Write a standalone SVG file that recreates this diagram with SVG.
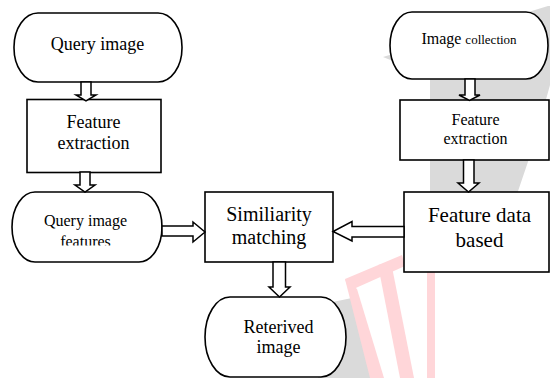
<svg xmlns="http://www.w3.org/2000/svg" width="550" height="378" viewBox="0 0 550 378">
<defs>
<style>
.nd{fill:#fff;stroke:#000;stroke-width:1.6}
.ar{fill:#fff;stroke:#000;stroke-width:1.5;stroke-linejoin:miter}
.t{font-family:'Liberation Serif','Times New Roman',Tinos,'Nimbus Roman','DejaVu Serif',serif;fill:#000;text-anchor:middle}
.wm{fill:#dadada}
.pk{fill:#ffd6d9}
</style>
<clipPath id="clipF"><rect x="0" y="200" width="200" height="45.5"/></clipPath>
</defs>
<rect width="550" height="378" fill="#fff"/>
<g id="watermark">
<polygon class="wm" points="383,57 548,6 550,6 550,85 532,150 515,200 500,272 430,272 430,76"/>
<polygon class="wm" points="318,305 352,298 374,378 318,378"/>
<polygon class="pk" points="345,279 402,255 405,266 349,291"/>
<polygon class="pk" points="345,279 357,289 384,378 370,378"/>
<polygon class="pk" points="378,265 391,262 414,378 400,378"/>
<rect class="pk" x="427" y="268" width="8" height="110"/>
</g>
<g id="query-image">
<rect class="nd" x="14" y="13" width="168" height="69" rx="24" ry="34"/>
<text class="t" x="97.5" y="50" font-size="18">Query image</text>
</g>
<g id="feature-extraction-left">
<rect class="nd" x="27" y="99.5" width="134" height="73"/>
<text class="t" x="93.5" y="128" font-size="18">Feature</text>
<text class="t" x="93.5" y="149" font-size="18">extraction</text>
</g>
<g id="query-image-features">
<rect class="nd" x="12" y="192" width="150" height="70" rx="23" ry="35"/>
<text class="t" x="85.5" y="225.5" font-size="16">Query image</text>
<text class="t" x="85.5" y="247" font-size="16" clip-path="url(#clipF)">features</text>
</g>
<g id="similarity-matching">
<rect class="nd" x="205" y="192" width="128" height="70"/>
<text class="t" x="269" y="221" font-size="20">Similiarity</text>
<text class="t" x="269" y="244" font-size="20">matching</text>
</g>
<g id="retrieved-image">
<rect class="nd" x="205" y="297" width="141" height="80" rx="25" ry="40"/>
<text class="t" x="278.5" y="333" font-size="18">Reterived</text>
<text class="t" x="278.5" y="353" font-size="18">image</text>
</g>
<g id="image-collection">
<rect class="nd" x="390" y="12" width="158" height="67" rx="22" ry="33.5"/>
<text class="t" x="469" y="44"><tspan font-size="16">Image </tspan><tspan font-size="13">collection</tspan></text>
</g>
<g id="feature-extraction-right">
<rect class="nd" x="400" y="100" width="149" height="60"/>
<text class="t" x="475.5" y="125" font-size="16">Feature</text>
<text class="t" x="475.5" y="144" font-size="16">extraction</text>
</g>
<g id="feature-data-based">
<rect class="nd" x="404" y="192" width="145" height="80"/>
<text class="t" x="479.5" y="222" font-size="21">Feature data</text>
<text class="t" x="479.5" y="247" font-size="21">based</text>
</g>
<g id="connectors">
<polygon class="ar" points="81,82 91,82 91,95 96,95 86,101 76,95 81,95"/>
<polygon class="ar" points="80,172 90,172 90,185 95,185 85,192 75,185 80,185"/>
<polygon class="ar" points="162,226 193,226 193,222 205,232 193,242 193,236 162,236"/>
<polygon class="ar" points="404,226.5 352,226.5 352,221.5 333,231.5 352,241 352,237 404,237"/>
<polygon class="ar" points="273,262 285.5,262 285.5,287 290,287 279.5,297 269,287 273,287"/>
<polygon class="ar" points="465,79 475,79 475,95 480,95 469.5,100.5 459,95 465,95"/>
<polygon class="ar" points="463.5,160 474,160 474,183 479,183 468.5,192 458,183 463.5,183"/>
</g>
</svg>
